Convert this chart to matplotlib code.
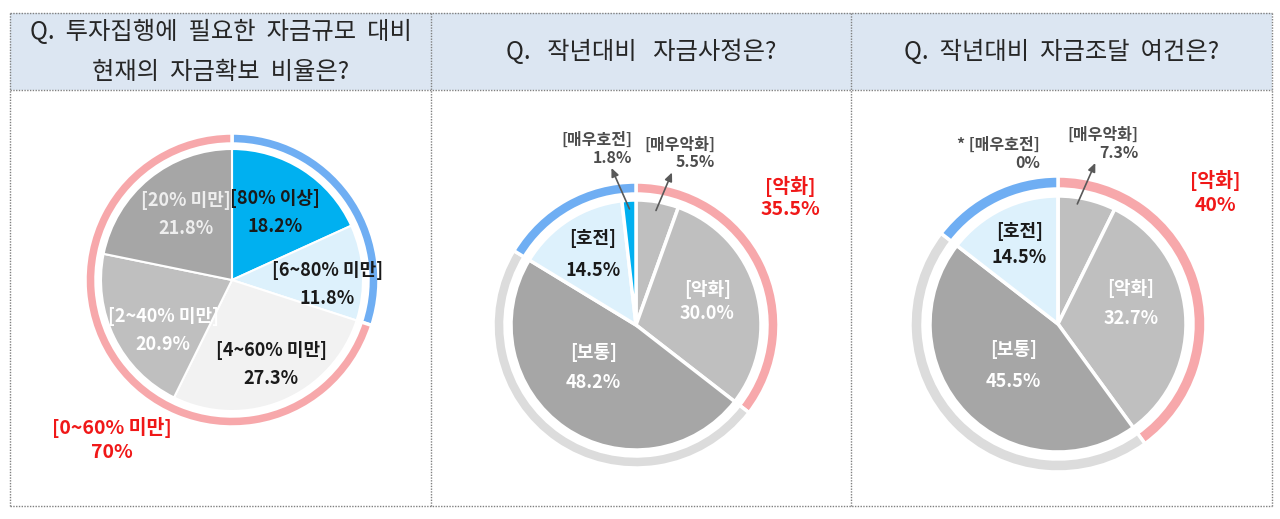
import numpy as np
import matplotlib.pyplot as plt
from matplotlib.patches import Rectangle

plt.rcParams['font.family'] = ['Noto Sans CJK KR', 'DejaVu Sans']

W, H = 1280, 519

titles = ['Q.  투자집행에  필요한  자금규모  대비\n현재의  자금확보  비율은?',
          'Q.   작년대비   자금사정은?',
          'Q.  작년대비  자금조달  여건은?']

# chart 1 : 자금확보 비율
c1_labels = ['80% 이상', '6~80% 미만', '4~60% 미만', '2~40% 미만', '20% 미만']
c1_values = [18.2, 11.8, 27.3, 20.9, 21.8]
c1_groups = [[0, 1], [2, 3, 4]]
c1_group_labels = ['60% 이상', '0~60% 미만']

# chart 2 : 자금사정
c2_labels = ['매우악화', '악화', '보통', '호전', '매우호전']
c2_values = [5.5, 30.0, 48.2, 14.5, 1.8]
c2_groups = [[0, 1], [2], [3, 4]]
c2_group_labels = ['악화', '보통', '호전']

# chart 3 : 자금조달 여건
c3_labels = ['매우악화', '악화', '보통', '호전', '매우호전']
c3_values = [7.3, 32.7, 45.5, 14.5, 0.0]
c3_groups = [[0, 1], [2], [3, 4]]
c3_group_labels = ['악화', '보통', '호전']

BLUE = '#00B0F0'
LBLUE = '#DDF1FC'
VLGRAY = '#F2F2F2'
GRAY = '#BFBFBF'
DGRAY = '#A6A6A6'
RING_BLUE = '#6FAEF3'
RING_PINK = '#F7A8AB'
RING_GRAY = '#DCDCDC'
RED = '#F01818'
DARK = '#1A1A1A'

fig = plt.figure(figsize=(12.8, 5.19), dpi=100)
ax = fig.add_axes([0, 0, 1, 1])


def Y(y):
    return H - y


# panels and headers
panel_x = [10, 431, 851, 1272]
top, head, bottom = 13, 90, 506
for i in range(3):
    ax.add_patch(Rectangle((panel_x[i], Y(head)), panel_x[i + 1] - panel_x[i], head - top,
                           fc='#DCE6F2', ec='none', zorder=0))
dot = dict(color='#808080', lw=1, ls=(0, (1, 1)), zorder=1)
for yy in [top, head, bottom]:
    ax.plot([panel_x[0], panel_x[-1]], [Y(yy), Y(yy)], **dot)
for xx in panel_x:
    ax.plot([xx, xx], [Y(top), Y(bottom)], **dot)

title_y = [(32, 72), (52,), (52,)]
for i in range(3):
    cx = (panel_x[i] + panel_x[i + 1]) / 2
    for line, yy in zip(titles[i].split('\n'), title_y[i]):
        ax.text(cx, Y(yy), line, ha='center', va='center', fontsize=17.5, color='#262626')


def draw_chart(values, groups, colors, ring_colors, center, R, ring_r, ring_w, lw):
    cx, cy = center[0], Y(center[1])
    wedges, _ = ax.pie(values, colors=colors, startangle=90, counterclock=False,
                       center=(cx, cy), radius=R, frame=True,
                       wedgeprops=dict(edgecolor='white', linewidth=lw))
    ring_vals = [sum(values[j] for j in g) for g in groups]
    ax.pie(ring_vals, colors=ring_colors, startangle=90, counterclock=False,
           center=(cx, cy), radius=ring_r, frame=True,
           wedgeprops=dict(width=ring_w, edgecolor='white', linewidth=2.5))
    return wedges, ring_vals, (cx, cy)


def polar(c, R, w, frac, dth=0):
    a = np.radians((w.theta1 + w.theta2) / 2 + dth)
    return c[0] + frac * R * np.cos(a), c[1] + frac * R * np.sin(a)


def inner_label(c, R, w, name, val, color, frac, dth, gap=28, fs=13):
    x, y = polar(c, R, w, frac, dth)
    ax.text(x, y + gap / 2, '[' + name + ']', ha='center', va='center', fontsize=fs,
            fontweight='bold', color=color)
    ax.text(x, y - gap / 2, '{:.1f}%'.format(val), ha='center', va='center', fontsize=fs,
            fontweight='bold', color=color)


def small_label(x, y, name, val, prefix=''):
    txt = '{:.1f}%'.format(val) if val > 0 else '0%'
    ax.text(x, y + 9, prefix + '[' + name + ']', ha='right', va='center', fontsize=11.5,
            fontweight='bold', color='#4D4D4D')
    ax.text(x, y - 9, txt, ha='right', va='center', fontsize=11.5,
            fontweight='bold', color='#4D4D4D')


def arrow_label(c, R, w, name, val, frac, dth, tip_off, txt_off):
    sx, sy = polar(c, R, w, frac, dth)
    tx, ty = sx + tip_off[0], sy + tip_off[1]
    ax.annotate('', xy=(tx, ty), xytext=(sx, sy),
                arrowprops=dict(arrowstyle='-|>,head_length=0.5,head_width=0.22',
                                color='#595959', lw=1.2, shrinkA=0, shrinkB=0))
    small_label(tx + txt_off[0], ty + txt_off[1], name, val)


def red_label(c, off, name, val, gap=24):
    x, y = c[0] + off[0], c[1] + off[1]
    ax.text(x, y + gap / 2, '[' + name + ']', ha='center', va='center', fontsize=14,
            fontweight='bold', color=RED)
    ax.text(x, y - gap / 2, '{:g}%'.format(val), ha='center', va='center', fontsize=14,
            fontweight='bold', color=RED)


# chart 1
R1 = 131
w1, g1, c1 = draw_chart(c1_values, c1_groups, [BLUE, LBLUE, VLGRAY, GRAY, DGRAY],
                        [RING_BLUE, RING_PINK], (232, 280), R1, 147, 11, 1.5)
c1_txt = [DARK, DARK, DARK, 'white', '#EEEEEE']
c1_pos = [(0.61, 0), (0.73, -6), (0.71, 2), (0.65, 10), (0.61, -4)]
for i in range(5):
    inner_label(c1, R1, w1[i], c1_labels[i], c1_values[i], c1_txt[i], *c1_pos[i])
red_label(c1, (-120, -160), c1_group_labels[1], g1[1], gap=25)

# chart 2
R2 = 125
w2, g2, c2 = draw_chart(c2_values, c2_groups, [GRAY, GRAY, DGRAY, LBLUE, BLUE],
                        [RING_PINK, RING_GRAY, RING_BLUE], (636, 325), R2, 143, 12, 2.5)
inner_label(c2, R2, w2[1], c2_labels[1], c2_values[1], 'white', 0.6, 2, gap=24)
inner_label(c2, R2, w2[2], c2_labels[2], c2_values[2], 'white', 0.48, -11, gap=30)
inner_label(c2, R2, w2[3], c2_labels[3], c2_values[3], DARK, 0.66, -1, gap=32)
arrow_label(c2, R2, w2[0], c2_labels[0], c2_values[0], 0.93, 0, (16, 38), (43, 19))
arrow_label(c2, R2, w2[4], c2_labels[4], c2_values[4], 0.93, 0, (-18, 41), (21, 19))
red_label(c2, (154, 127), c2_group_labels[0], g2[0], gap=23)

# chart 3
R3 = 128
w3, g3, c3 = draw_chart(c3_values, c3_groups, [GRAY, GRAY, DGRAY, LBLUE, BLUE],
                        [RING_PINK, RING_GRAY, RING_BLUE], (1058, 324), R3, 148, 13, 2.5)
inner_label(c3, R3, w3[1], c3_labels[1], c3_values[1], 'white', 0.59, 11, gap=30)
inner_label(c3, R3, w3[2], c3_labels[2], c3_values[2], 'white', 0.48, -1, gap=32)
inner_label(c3, R3, w3[3], c3_labels[3], c3_values[3], DARK, 0.69, 0, gap=26)
arrow_label(c3, R3, w3[0], c3_labels[0], c3_values[0], 0.95, 4, (18, 41), (43, 19))
small_label(c3[0] - 18, c3[1] + 170, c3_labels[4], c3_values[4], prefix='* ')
red_label(c3, (157, 131), c3_group_labels[0], g3[0], gap=25)

ax.set_xlim(0, W)
ax.set_ylim(0, H)
ax.set_aspect('auto')
ax.axis('off')

fig.savefig('out.png', dpi=100, facecolor='white')
